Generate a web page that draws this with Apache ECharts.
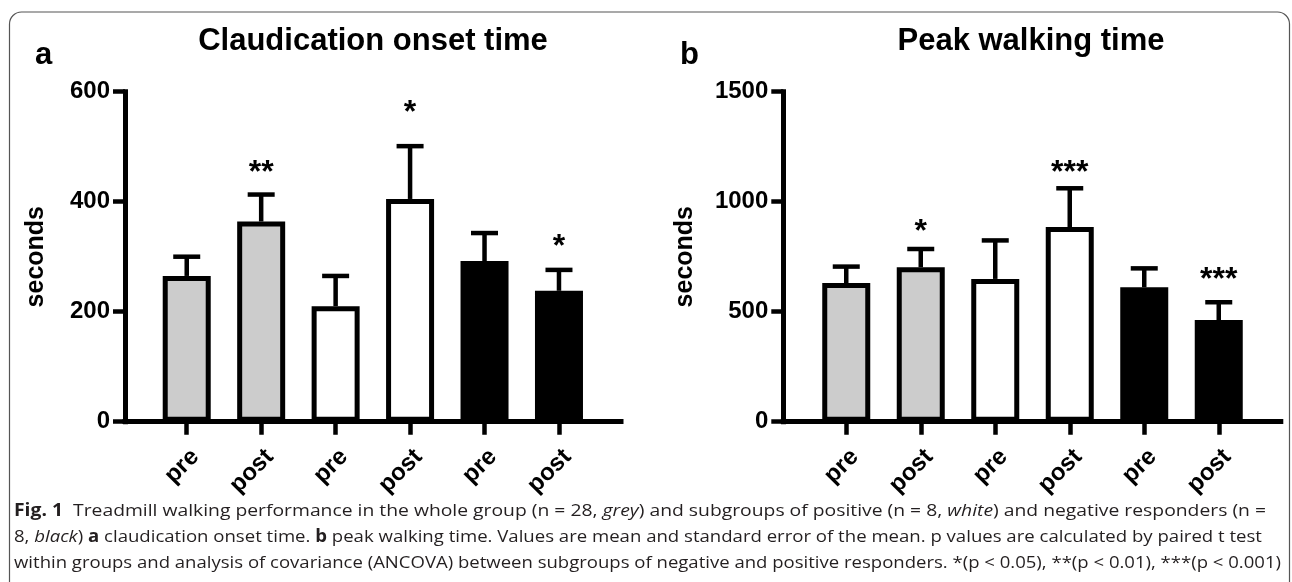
<!DOCTYPE html>
<html>
<head>
<meta charset="utf-8">
<script src="https://cdn.jsdelivr.net/npm/echarts@6/dist/echarts.min.js"></script>
<style>
  html, body { margin: 0; padding: 0; background: #fff; }
  #wrap { position: relative; width: 1292px; height: 582px; overflow: hidden; }
  #chart { position: absolute; left: 0; top: 0; width: 1292px; height: 582px; }
  .cap { position: absolute; left: 14px; white-space: nowrap; font-family: "Open Sans", "Noto Sans", sans-serif;
         font-size: 17px; color: #231f20; transform-origin: 0 50%; line-height: 20px; }
  .cap b { font-weight: 700; }
</style>
</head>
<body>
<div id="wrap">
  <div id="chart"></div>
  <div class="cap" id="cap1" data-w="1252" style="top:500px"><b>Fig. 1</b>&nbsp; Treadmill walking performance in the whole group (n = 28, <i>grey</i>) and subgroups of positive (n = 8, <i>white</i>) and negative responders (n =</div>
  <div class="cap" id="cap2" data-w="1248" style="top:526px">8, <i>black</i>) <b>a</b> claudication onset time. <b>b</b> peak walking time. Values are mean and standard error of the mean. p values are calculated by paired t test</div>
  <div class="cap" id="cap3" data-w="1267" style="top:552px">within groups and analysis of covariance (ANCOVA) between subgroups of negative and positive responders. *(p &lt; 0.05), **(p &lt; 0.01), ***(p &lt; 0.001)</div>
</div>
<script>
// ---- data ----
const categories = ['pre', 'post', 'pre', 'post', 'pre', 'post'];
const groupOfBar = ['grey', 'grey', 'white', 'white', 'black', 'black'];
const onsetMean = [265, 364, 210, 405, 292, 238];
const onsetSem  = [35, 49, 55, 96, 51, 38];
const onsetStars = ['', '**', '', '*', '', '*'];
const onsetStarLevel = [null, 464, null, 573, null, 330];
const peakMean = [630, 702, 649, 885, 611, 462];
const peakSem  = [75, 83, 175, 176, 86, 81];
const peakStars = ['', '*', '', '***', '', '***'];
const peakStarLevel = [null, 894, null, 1162, null, 677];
const onsetTicks = { min: 0, max: 600, interval: 200 };
const peakTicks = { min: 0, max: 1500, interval: 500 };

// ---- style ----
const FONT = '"Liberation Sans", Arial, Helvetica, sans-serif';
const fills = { grey: '#cccccc', white: '#ffffff', black: '#000000' };
const AX = 5;

const chart = echarts.init(document.getElementById('chart'), null, { renderer: 'canvas' });

const TOP = 91.7, H = 330;
const grids = [
  { left: 125, top: TOP, width: 496, height: H },      // frame a
  { left: 149.5, top: TOP, width: 446.7, height: H },  // bars a
  { left: 783.3, top: TOP, width: 497.5, height: H },  // frame b
  { left: 809, top: TOP, width: 447, height: H }       // bars b
];

function frameX(gi) {
  return { type: 'value', gridIndex: gi, min: 0, max: 1, show: true,
    axisLine: { show: true, lineStyle: { color: '#000', width: AX, cap: 'square' } },
    axisTick: { show: false }, axisLabel: { show: false }, splitLine: { show: false } };
}
function frameY(gi, t, gap) {
  return { type: 'value', gridIndex: gi, min: t.min, max: t.max, interval: t.interval,
    name: 'seconds', nameLocation: 'middle', nameGap: gap, nameRotate: 90,
    nameTextStyle: { fontFamily: FONT, fontWeight: 'bold', fontSize: 25, color: '#000' },
    axisLine: { show: true, lineStyle: { color: '#000', width: AX, cap: 'square' } },
    axisTick: { show: true, length: 12, lineStyle: { color: '#000', width: 4.5 } },
    axisLabel: { margin: 15, fontFamily: FONT, fontWeight: 'bold', fontSize: 24, color: '#000',
                 formatter: function (v) { return String(v); } },
    splitLine: { show: false } };
}
function barX(gi) {
  return { type: 'category', gridIndex: gi, data: categories, boundaryGap: true,
    axisLine: { show: false },
    axisTick: { show: true, alignWithLabel: true, length: 13, lineStyle: { color: '#000', width: 4.5 } },
    axisLabel: { rotate: 45, margin: 23, verticalAlign: 'top', fontFamily: FONT, fontWeight: 'bold', fontSize: 24, color: '#000', interval: 0 },
    splitLine: { show: false } };
}
function barY(gi, t) {
  return { type: 'value', gridIndex: gi, min: t.min, max: t.max, interval: t.interval, show: false,
    splitLine: { show: false } };
}

function barSeries(ai, mean) {
  return { type: 'bar', xAxisIndex: ai, yAxisIndex: ai, barWidth: 48, z: 3,
    data: mean.map((v, i) => ({ value: v, itemStyle: { color: fills[groupOfBar[i]] } })),
    itemStyle: { borderColor: '#000', borderWidth: 5 },
    emphasis: { disabled: true }, animation: false };
}
function errSeries(ai, mean, sem) {
  return { type: 'custom', xAxisIndex: ai, yAxisIndex: ai, z: 4, animation: false,
    data: mean.map((v, i) => [i, v, sem[i]]),
    renderItem: function (params, api) {
      const i = api.value(0), m = api.value(1), e = api.value(2);
      const p0 = api.coord([i, m]);
      const p1 = api.coord([i, m + e]);
      return { type: 'group', children: [
        { type: 'line', shape: { x1: p0[0], y1: p0[1], x2: p1[0], y2: p1[1] }, style: { stroke: '#000', lineWidth: 4.5 } },
        { type: 'line', shape: { x1: p1[0] - 13.5, y1: p1[1], x2: p1[0] + 13.5, y2: p1[1] }, style: { stroke: '#000', lineWidth: 4.5 } }
      ] };
    } };
}
function starSeries(ai, stars, levels) {
  const d = [];
  stars.forEach((s, i) => { if (s) d.push([i, levels[i], s]); });
  return { type: 'custom', xAxisIndex: ai, yAxisIndex: ai, z: 5, animation: false,
    data: d,
    renderItem: function (params, api) {
      const p = api.coord([api.value(0), api.value(1)]);
      return { type: 'text', x: p[0], y: p[1] + 7,
        style: { text: d[params.dataIndex][2], fontFamily: FONT, fontWeight: 'bold', fontSize: 32,
                 fill: '#000', align: 'center', verticalAlign: 'middle' } };
    } };
}

const option = {
  backgroundColor: '#fff',
  animation: false,
  grid: grids,
  xAxis: [frameX(0), barX(1), frameX(2), barX(3)],
  yAxis: [frameY(0, onsetTicks, 76), barY(1, onsetTicks), frameY(2, peakTicks, 86), barY(3, peakTicks)],
  series: [
    barSeries(1, onsetMean), errSeries(1, onsetMean, onsetSem), starSeries(1, onsetStars, onsetStarLevel),
    barSeries(3, peakMean), errSeries(3, peakMean, peakSem), starSeries(3, peakStars, peakStarLevel)
  ],
  graphic: [
    { type: 'rect', shape: { x: 9.5, y: 12, width: 1280, height: 640, r: 12 },
      style: { fill: 'none', stroke: '#555', lineWidth: 1.2 }, silent: true },
    { type: 'text', x: 373, y: 41.5, style: { text: 'Claudication onset time', fontFamily: FONT, fontWeight: 'bold', fontSize: 31, fill: '#000', align: 'center', verticalAlign: 'middle' } },
    { type: 'text', x: 1031, y: 41.5, style: { text: 'Peak walking time', fontFamily: FONT, fontWeight: 'bold', fontSize: 31, fill: '#000', align: 'center', verticalAlign: 'middle' } },
    { type: 'text', x: 35, y: 55, style: { text: 'a', fontFamily: FONT, fontWeight: 'bold', fontSize: 31, fill: '#000', align: 'left', verticalAlign: 'middle' } },
    { type: 'text', x: 680, y: 55, style: { text: 'b', fontFamily: FONT, fontWeight: 'bold', fontSize: 31, fill: '#000', align: 'left', verticalAlign: 'middle' } }
  ]
};
chart.setOption(option);

// fit caption lines to their widths
document.querySelectorAll('.cap').forEach(function (el) {
  const w = el.getBoundingClientRect().width;
  const target = parseFloat(el.getAttribute('data-w'));
  el.style.transform = 'scaleX(' + (target / w) + ')';
});
</script>
</body>
</html>
